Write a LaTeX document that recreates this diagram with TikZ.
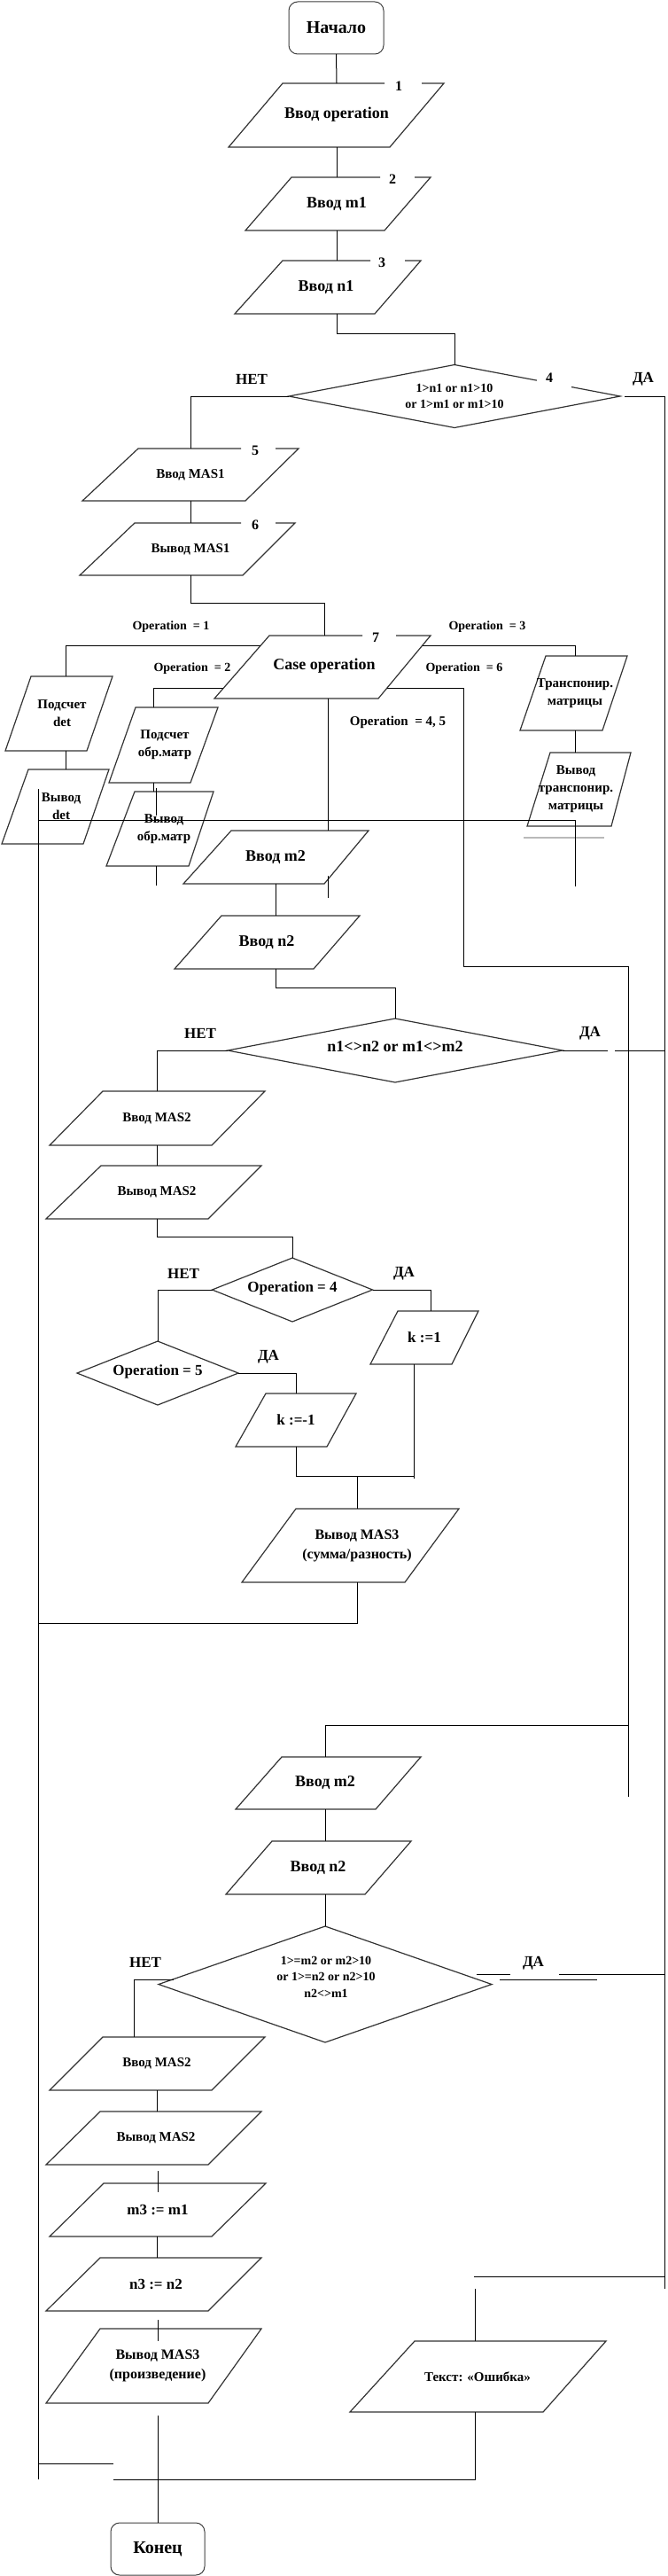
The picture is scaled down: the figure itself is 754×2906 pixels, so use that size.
\documentclass[tikz,border=0pt]{standalone}
\usepackage{fontspec}
\setmainfont{Liberation Serif}
\usetikzlibrary{calc}
\newcommand\pg[6]{\draw[box] (#1,#3) -- (#2,#3) -- (#5,#6) -- (#4,#6) -- cycle;}
\newcommand\pgn[8]{\draw[box] (#7,#3) -- (#1,#3) -- (#4,#6) -- (#5,#6) -- (#2,#3) -- (#8,#3);}
\begin{document}
\begin{tikzpicture}[x=1pt,y=-1pt,
  box/.style={draw=black!80, line width=1.2pt, line join=miter},
  ln/.style={draw=black, line width=1pt},
  tx/.style={inner sep=0pt, outer sep=0pt, align=center, text=black},
  f14/.style={tx, font=\bfseries\fontsize{14}{18.5}\selectfont},
  f15/.style={tx, font=\bfseries\fontsize{15}{20}\selectfont},
  f16/.style={tx, font=\bfseries\fontsize{16}{22}\selectfont},
  f17/.style={tx, font=\bfseries\fontsize{17}{21}\selectfont},
  f18/.style={tx, font=\bfseries\fontsize{18}{22}\selectfont},
  f20/.style={tx, font=\bfseries\fontsize{20}{24}\selectfont},
  term/.style={draw=black!75, line width=1pt, rounded corners=10pt}]
\fill[white] (0,0) rectangle (754,2906);
\useasboundingbox (0,0) rectangle (754,2906);

% ---- start
\node[f20, term, minimum width=107pt, minimum height=59pt] (start) at (379.5,31.5) {Начало};

% ---- 1
\pgn{319}{501}{94}{258}{440}{166}{434}{476}
\node[f16] (lab1) at (450,97) {1};
\node[f18, minimum height=72pt] (op) at (380,130) {\raisebox{6pt}{Ввод operation}};
\draw[ln] (start.south) -- (op.north);

% ---- 2
\pgn{329}{486}{200}{277}{434}{260}{429}{468}
\node[f16] (lab2) at (443,202) {2};
\node[f18, minimum height=60pt] (m1) at (380,230) {Ввод m1};
\draw[ln] (op.south) -- (m1.north);

% ---- 3
\pgn{319}{475}{294}{265}{423}{354}{418}{457}
\node[f16] (lab3) at (431,296) {3};
\node[f18, minimum height=60pt] (n1) at (368,324) {Ввод n1};
\draw[ln] (m1.south) -- (m1.south |- n1.north);

% ---- diamond 4
\node[f14, minimum width=374pt, minimum height=71pt] (d1) at (513,447) {1>n1 or n1>10\\or 1>m1 or m1>10};
\draw[box] ($(d1.north)!0.706!(d1.east)$) -- (d1.east) -- (d1.south) -- (d1.west) -- (d1.north) -- ($(d1.north)!0.497!(d1.east)$);
\node[f16] (lab4) at (620,426) {4};
\draw[ln] (m1.south |- n1.south) -- ++(0,22) -| (d1.north);
\node[f17] (no1) at (284,428) {НЕТ};
\node[f17] (yes1) at (726,428) {ДА};
\coordinate (r0) at (750,447);
\coordinate (r1) at (750,2582);
\draw[ln] ([xshift=5pt]d1.east) -- (r0) -- (r1);

% ---- 5, 6
\pgn{156}{337}{506}{93}{277}{565}{272}{311}
\node[f16] (lab5) at (288,508) {5};
\node[f15, minimum height=59pt] (mas1) at (215,535.5) {Ввод MAS1};
\draw[ln] (d1.west) -| (mas1.north);
\pgn{152}{333}{590}{90}{274}{649}{272}{311}
\node[f16] (lab6) at (288,592) {6};
\node[f15, minimum height=59pt] (vmas1) at (215,619.5) {Вывод MAS1};
\draw[ln] (mas1.south) -- (vmas1.north);

% ---- case 7
\pgn{304}{486}{717}{242}{427}{788}{409}{447}
\node[f16] (lab7) at (424,719) {7};
\node[f18, minimum height=71pt] (case) at (366,752.5) {\raisebox{7pt}{Case operation}};
\draw[ln] (vmas1.south) -- ++(0,31) -| (case.north);

\node[f14] (lop1) at (193,707) {Operation~ = 1};
\node[f14] (lop2) at (217,754) {Operation~ = 2};
\node[f14] (lop3) at (550,707) {Operation~ = 3};
\node[f14] (lop6) at (524,754) {Operation~ = 6};
\node[f15] (lop45) at (449,815) {Operation~ = 4, 5};

\coordinate (c1) at (294,728);
\coordinate (c2) at (252,776);
\coordinate (c3) at (477,728);
\coordinate (c6) at (437,776);

% ---- det
\pg{35}{127}{763}{6}{98}{847}
\node[f15, minimum height=84pt] (det) at (70,805) {Подсчет\\det};
\draw[ln] (c1) -| ([xshift=4pt]det.north);
\pg{32}{123}{868}{2}{94}{952}
\node[f15, minimum height=84pt] (vdet) at (69,910) {Вывод\\det};
\draw[ln] ([xshift=4pt]det.south) -- ([xshift=5pt]vdet.north);

% ---- obr
\pg{153}{246}{798}{123}{215}{883}
\node[f15, minimum height=85pt] (obr) at (186,840.5) {Подсчет\\обр.матр};
\draw[ln] (c2) -| ([xshift=-13pt]obr.north);
\pg{152}{241}{893}{120}{213}{977}
\node[f15, minimum height=84pt] (vobr) at (185,935) {Вывод\\обр.матр};
\draw[ln] ([xshift=-13pt]obr.south) -- ([xshift=-12pt]vobr.north);
\draw[ln] ([xshift=-10pt]obr.south) ++(0,6) -- ++(0,31);
\draw[ln] ([xshift=-9pt]vobr.south) -- ++(0,22);

% ---- trans
\pg{616}{708}{740}{587}{680}{824}
\node[f15, minimum height=84pt] (trans) at (649,782) {Транспонир.\\матрицы};
\draw[ln] (c3) -| (trans.north);
\pg{621}{712}{849}{595}{690}{932}
\node[f15, minimum height=83pt] (vtrans) at (650,890.5) {Вывод\\транспонир.\\матрицы};
\draw[ln] (trans.south) -- (trans.south |- vtrans.north);
\draw[gray!55, line width=1.5pt] (591,945) -- (682,945);

% ---- merge line of case branches
\coordinate (mL) at (43,925);
\coordinate (mR) at (649,925);
\coordinate (mR2) at (649,1000);
\draw[ln] (mL) -- (mR) -- (mR2);

% ---- m2, n2
\pg{261}{416}{937}{207}{366}{997}
\node[f18, minimum height=60pt] (m2) at (311,967) {Ввод m2};
\draw[ln] ([xshift=4pt]case.south) -- ([xshift=59pt]m2.north);
\draw[ln] ([xshift=59pt]m2.south) ++(0,-9) -- ++(0,25);
\pg{250}{406}{1033}{197}{354}{1093}
\node[f18, minimum height=60pt] (n2) at (301,1063) {Ввод n2};
\draw[ln] (m2.south) -- (m2.south |- n2.north);

% ---- operation 6 line
\coordinate (c6b) at (523,1090);
\coordinate (c6c) at (709,1090);
\coordinate (c6d) at (709,1946);
\coordinate (c6e) at (709,2027);
\draw[ln] (c6) -| (c6b) -- (c6c) -- (c6e);

% ---- diamond n1<>n2
\node[f18, minimum width=378pt, minimum height=72pt] (d2) at (446,1185) {\raisebox{8pt}{n1<>n2 or m1<>m2}};
\draw[box] (d2.north) -- (d2.east) -- (d2.south) -- (d2.west) -- cycle;
\draw[ln] (m2.south |- n2.south) -- ++(0,21) -| (d2.north);
\node[f17] (no2) at (226,1166) {НЕТ};
\node[f17] (yes2) at (666,1166) {ДА};
\coordinate (y2a) at (686,1185);
\coordinate (y2b) at (694,1185);
\coordinate (y2c) at (750,1185);
\draw[ln] (d2.east) -- (y2a);
\draw[ln] (y2b) -- (y2c);

% ---- MAS2 (first)
\pg{116}{299}{1231}{56}{239}{1292}
\node[f15, minimum height=61pt] (mas2a) at (177,1261.5) {Ввод MAS2};
\draw[ln] (d2.west) -| (mas2a.north);
\pg{114}{295}{1315}{52}{235}{1375}
\node[f15, minimum height=60pt] (vmas2a) at (177,1345) {Вывод MAS2};
\draw[ln] (mas2a.south) -- (vmas2a.north);

% ---- Operation = 4 / 5
\node[f17, minimum width=181pt, minimum height=72pt] (d3) at (330,1455) {\raisebox{7pt}{Operation = 4}};
\draw[box] (d3.north) -- (d3.east) -- (d3.south) -- (d3.west) -- cycle;
\draw[ln] (vmas2a.south) -- ++(0,20) -| (d3.north);
\node[f17] (no3) at (207,1437) {НЕТ};
\node[f17] (yes3) at (456,1437) {ДА};
\node[f17, minimum width=182pt, minimum height=72pt] (d4) at (178,1549) {\raisebox{6pt}{Operation = 5}};
\draw[box] (d4.north) -- (d4.east) -- (d4.south) -- (d4.west) -- cycle;
\draw[ln] (d3.west) -| (d4.north);
\node[f17] (yes4) at (303,1531) {ДА};

\pg{449}{540}{1479}{418}{510}{1539}
\node[f17, minimum height=60pt] (k1) at (479,1509) {k :=1};
\draw[ln] (d3.east) -| ([xshift=7pt]k1.north);
\pg{300}{402}{1572}{266}{369}{1632}
\node[f17, minimum height=60pt] (km1) at (334,1602) {k :=-1};
\draw[ln] (d4.east) -| (km1.north);

\coordinate (jn) at (403,1665);
\draw[ln] (km1.south) |- ([xshift=-12pt]k1.south |- jn);
\draw[ln] ([xshift=-12pt]k1.south) -- ++(0,129);

% ---- MAS3 sum
\pg{334}{518}{1702}{273}{457}{1785}
\node[f16, minimum height=83pt] (mas3) at (403,1743.5) {Вывод MAS3\\(сумма/разность)};
\draw[ln] (jn) -- (mas3.north);
\coordinate (mas3j) at (403,1831);
\coordinate (Lm) at (43,1831);
\draw[ln] (mas3.south) -- (mas3j) -- (Lm);

% ---- second part
\pg{318}{475}{1982}{266}{424}{2041}
\node[f18, minimum height=59pt] (m2b) at (367,2011.5) {Ввод m2};
\draw[ln] (c6d) -| (m2b.north);
\pg{307}{464}{2077}{255}{412}{2137}
\node[f18, minimum height=60pt] (n2b) at (359,2107) {Ввод n2};
\draw[ln] (m2b.south) -- (m2b.south |- n2b.north);

\node[tx, minimum width=376pt, minimum height=131pt] (d5) at (367,2238.5) {};
\draw[box] (d5.north) -- (d5.east) -- (d5.south) -- (d5.west) -- cycle;
\node[f14] (d5t) at (368,2230) {1>=m2 or m2>10\\or 1>=n2 or n2>10\\n2<>m1};
\draw[ln] (m2b.south |- n2b.south) -- (d5.north);
\node[f17] (no5) at (164,2214) {НЕТ};
\node[f17] (yes5) at (602,2215) {ДА};
\coordinate (d5n) at (196,2233);
\coordinate (ya1) at (538,2227);
\coordinate (ya2) at (576,2227);
\coordinate (ya3) at (631,2227);
\coordinate (ya4) at (750,2227);
\coordinate (yb1) at (564,2233);
\coordinate (yb2) at (674,2233);
\draw[ln] (ya1) -- (ya2);
\draw[ln] (ya3) -- (ya4);
\draw[ln] (yb1) -- (yb2);

\pg{116}{299}{2298}{56}{239}{2358}
\node[f15, minimum height=60pt] (mas2b) at (177,2328) {Ввод MAS2};
\draw[ln] (d5n) -| ([xshift=-26pt]mas2b.north);
\pg{113}{295}{2382}{52}{235}{2442}
\node[f15, minimum height=60pt] (vmas2b) at (176,2412) {Вывод MAS2};
\draw[ln] (mas2b.south) -- (mas2b.south |- vmas2b.north);
\pg{117}{300}{2463}{56}{239}{2523}
\node[f17, minimum height=60pt] (m3) at (178,2493) {m3 := m1};
\draw[ln] ([xshift=2pt]vmas2b.south) ++(0,7) -- ++(0,24);
\pg{113}{295}{2547}{52}{235}{2607}
\node[f17, minimum height=60pt] (n3) at (176,2577) {n3 := n2};
\draw[ln] ([xshift=-1pt]m3.south) -- ([xshift=1pt]n3.north);
\pg{113}{295}{2627}{52}{235}{2711}
\node[f16, minimum height=84pt] (mas3b) at (178,2669) {Вывод MAS3\\(произведение)};
\draw[ln] ([xshift=2pt]n3.south) ++(0,10) -- ++(0,24);

\node[f20, term, minimum width=106pt, minimum height=59pt] (end) at (178,2875.5) {Конец};
\draw[ln] (mas3b.south) ++(0,14) -- (end.north);

% ---- error branch
\coordinate (r2) at (750,2568);
\coordinate (r2b) at (535,2568);
\draw[ln] (r2) -- (r2b);
\pg{468}{684}{2641}{395}{613}{2721}
\node[f15, minimum height=80pt] (err) at (539,2681) {Текст: «Ошибка»};
\draw[ln] ([xshift=-3pt]err.north) ++(0,-59) -- ([xshift=-3pt]err.north);
\coordinate (b1) at (128,2797);
\draw[ln] ([xshift=-3pt]err.south) |- (b1);

% ---- left return line
\coordinate (L1) at (43,890);
\coordinate (L2) at (43,2797);
\coordinate (b0a) at (43,2779);
\coordinate (b0) at (128,2779);
\draw[ln] (L1) -- (L2);
\draw[ln] (b0a) -- (b0);
\end{tikzpicture}
\end{document}
